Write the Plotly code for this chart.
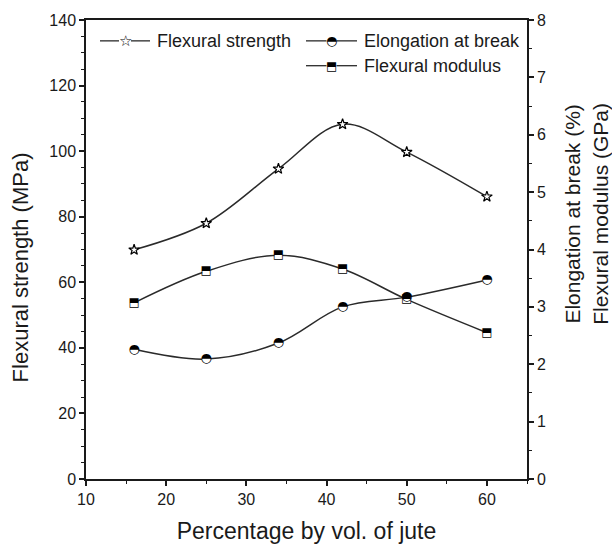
import plotly.graph_objects as go

jute = [16, 25, 34, 42, 50, 60]
flex_strength = [69.9, 78.0, 94.6, 108.2, 99.7, 86.1]
elongation = [2.26, 2.09, 2.37, 3.00, 3.17, 3.47]
flex_modulus = [3.07, 3.62, 3.90, 3.66, 3.13, 2.55]

series_names = ["Flexural strength", "Elongation at break", "Flexural modulus"]

LINE = "#2a2a2a"
AX = "#1a1a1a"
FONT = "Liberation Sans, Arial, sans-serif"

fig = go.Figure()

# data curves
fig.add_trace(go.Scatter(x=jute, y=flex_strength, mode="lines+markers", name=series_names[0],
                         line=dict(color=LINE, width=1.5, shape="spline", smoothing=1.0),
                         marker=dict(symbol="star", size=8, color="white",
                                     line=dict(color="black", width=1.2)),
                         showlegend=False))
fig.add_trace(go.Scatter(x=jute, y=elongation, mode="lines+markers", yaxis="y2", name=series_names[1],
                         line=dict(color=LINE, width=1.5, shape="spline", smoothing=1.0),
                         marker=dict(symbol="circle", size=9, color="white", line=dict(width=0)),
                         showlegend=False))
fig.add_trace(go.Scatter(x=jute, y=flex_modulus, mode="lines+markers", yaxis="y2", name=series_names[2],
                         line=dict(color=LINE, width=1.5, shape="spline", smoothing=1.0),
                         marker=dict(symbol="square", size=8, color="white", line=dict(width=0)),
                         showlegend=False))
# half-filled markers as glyphs
fig.add_trace(go.Scatter(x=jute, y=elongation, mode="text", yaxis="y2", text=["\u25d3"] * len(jute),
                         textposition="middle center",
                         textfont=dict(family="DejaVu Sans", size=13, color="black"),
                         showlegend=False, hoverinfo="skip"))
fig.add_trace(go.Scatter(x=jute, y=flex_modulus, mode="text", yaxis="y2", text=["\u2b12"] * len(jute),
                         textposition="middle center",
                         textfont=dict(family="DejaVu Sans", size=12, color="black"),
                         showlegend=False, hoverinfo="skip"))


def px2paper(px, py):
    return (px - 86) / 441, (479 - py) / 462


# manual legend (key line, key glyph, label)
legend_items = [
    (100, 150, 38, "<b>\u2606</b>", 15, 6, series_names[0]),
    (306, 357, 38, "\u25d3", 13, 5, series_names[1]),
    (306, 357, 63, "\u2b12", 12, 5, series_names[2]),
]
shapes = []
annotations = []
for x0, x1, yy, glyph, gsize, gap, label in legend_items:
    cx = (x0 + x1) / 2
    a0, b = px2paper(x0, yy)
    a1, _ = px2paper(cx - gap, yy)
    a2, _ = px2paper(cx + gap, yy)
    a3, _ = px2paper(x1, yy)
    for s0, s1 in ((a0, a1), (a2, a3)):
        shapes.append(dict(type="line", xref="paper", yref="paper", x0=s0, x1=s1, y0=b, y1=b,
                           line=dict(color=LINE, width=1.3)))
    gx, _ = px2paper(cx, yy)
    annotations.append(dict(text=glyph, xref="paper", yref="paper", x=gx, y=b,
                            xanchor="center", yanchor="middle", showarrow=False,
                            font=dict(family="DejaVu Sans", size=gsize, color="black")))
    tx, _ = px2paper(x1 + 5, yy)
    annotations.append(dict(text=label, xref="paper", yref="paper", x=tx, y=b,
                            xanchor="left", yanchor="middle", showarrow=False,
                            font=dict(size=18, color=AX)))

annotations += [
    dict(text="Flexural strength (MPa)", textangle=-90, xref="paper", yref="paper",
         x=(20 - 86) / 441, y=(479 - 266) / 462, xanchor="center", yanchor="middle",
         showarrow=False, font=dict(size=22, color=AX)),
    dict(text="Elongation at break (%)<br>Flexural modulus (GPa)", textangle=-90,
         xref="paper", yref="paper", x=(586 - 86) / 441, y=(479 - 212) / 462,
         xanchor="center", yanchor="middle", showarrow=False, align="center",
         font=dict(size=21, color=AX)),
]

fig.update_layout(
    width=612, height=552,
    margin=dict(l=86, r=85, t=17, b=73),
    paper_bgcolor="white", plot_bgcolor="white",
    font=dict(family=FONT, size=16, color=AX),
    showlegend=False,
    xaxis=dict(range=[10, 65], tickmode="linear", tick0=10, dtick=10,
               ticks="outside", ticklen=5, tickwidth=1.5, tickcolor=AX,
               minor=dict(ticks="outside", ticklen=3, dtick=5, tickwidth=1.2, tickcolor=AX),
               showline=True, linecolor=AX, linewidth=1.5, mirror=True,
               showgrid=False, zeroline=False,
               title=dict(text="Percentage by vol. of jute", font=dict(size=23), standoff=16)),
    yaxis=dict(range=[0, 140], tickmode="linear", tick0=0, dtick=20,
               ticks="outside", ticklen=5, tickwidth=1.5, tickcolor=AX,
               minor=dict(ticks="outside", ticklen=3, dtick=5, tickwidth=1.2, tickcolor=AX),
               showline=True, linecolor=AX, linewidth=1.5,
               showgrid=False, zeroline=False),
    yaxis2=dict(range=[0, 8], overlaying="y", side="right", tickmode="linear", tick0=0, dtick=1,
                ticks="outside", ticklen=5, tickwidth=1.5, tickcolor=AX,
                minor=dict(ticks="outside", ticklen=3, dtick=0.5, tickwidth=1.2, tickcolor=AX),
                showline=True, linecolor=AX, linewidth=1.5,
                showgrid=False, zeroline=False),
    shapes=shapes,
    annotations=annotations,
)

fig.write_html("out.html")
